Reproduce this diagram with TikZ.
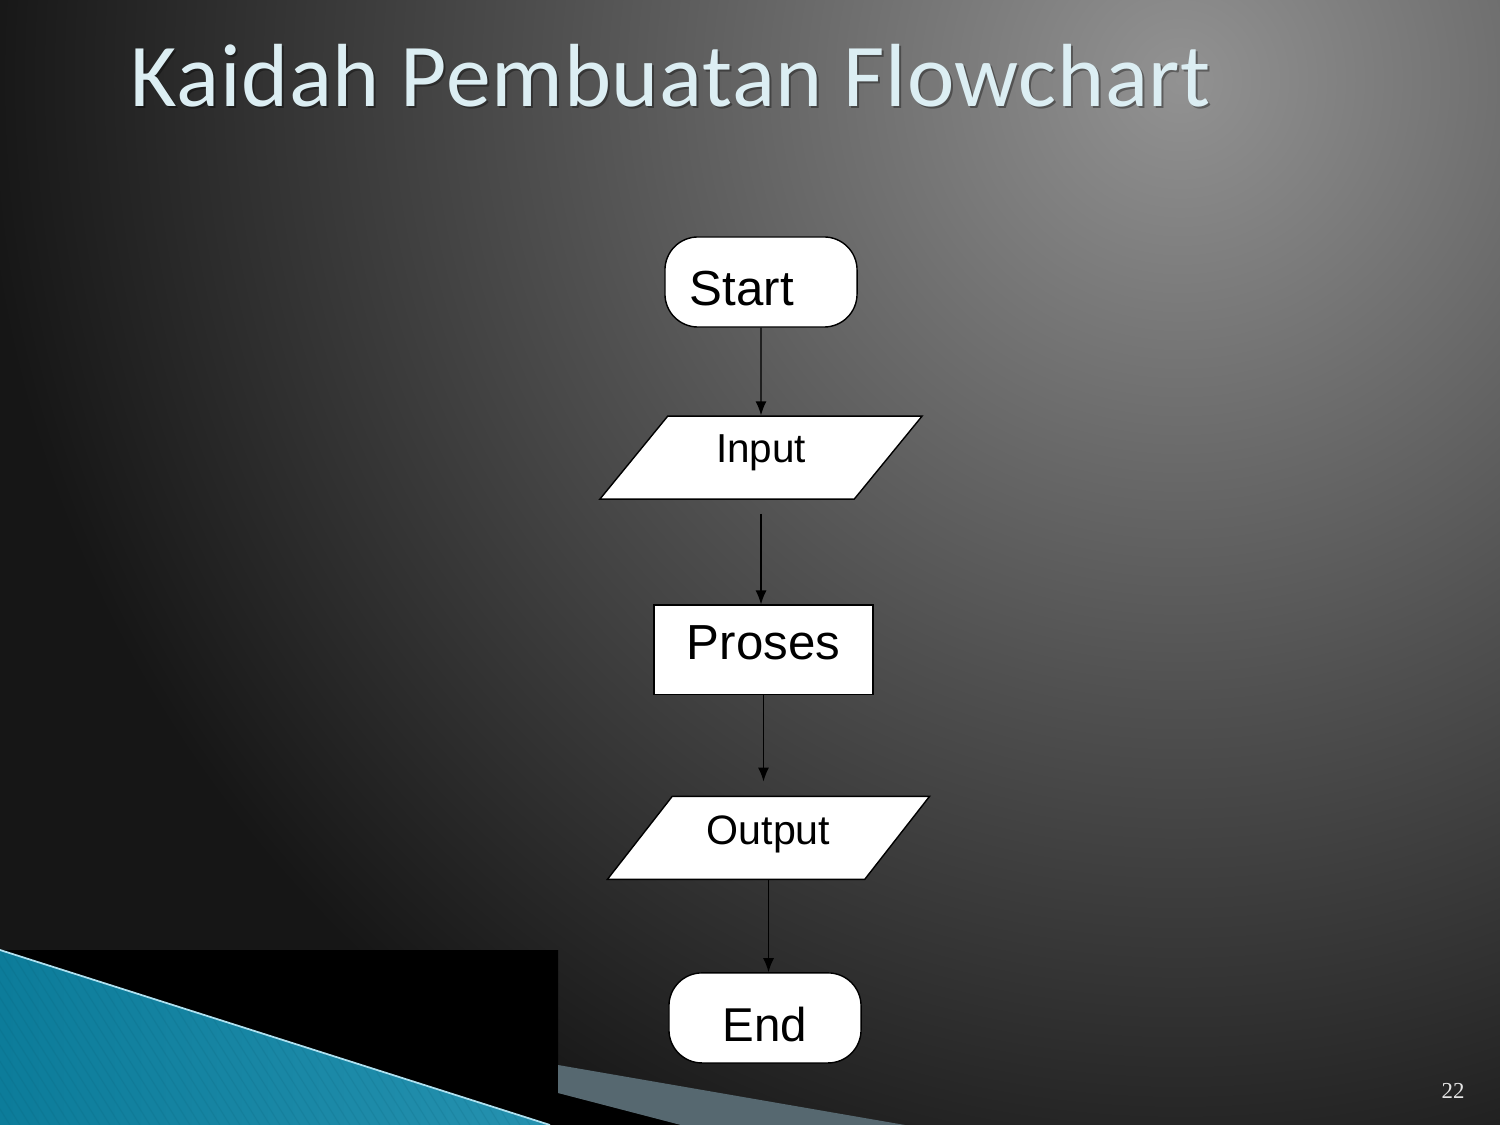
\documentclass[tikz,border=0pt]{standalone}
\usepackage{fontspec}
\setmainfont{Liberation Sans}
\newfontfamily\titlefont[LetterSpace=0.8]{Carlito}
\newfontfamily\pagefont{Liberation Serif}
\usepackage{tikz}
\usetikzlibrary{shapes.geometric, arrows.meta, positioning}
\definecolor{bglight}{RGB}{146,146,146}
\definecolor{bgmid}{RGB}{80,80,80}
\definecolor{bgdark}{RGB}{22,22,22}
\definecolor{titleblue}{RGB}{220,238,243}
\definecolor{tealdark}{RGB}{12,124,154}
\definecolor{teallight}{RGB}{96,196,226}
\definecolor{slateband}{RGB}{86,104,112}
\pgfdeclareradialshading{slidebg}{\pgfpoint{0bp}{0bp}}{color(0bp)=(bglight); color(13bp)=(bgmid); color(25bp)=(bgdark); color(50bp)=(bgdark)}
\tikzstyle{term}=[draw,fill=white,rectangle,rounded corners=0.33cm,minimum width=1.92cm,minimum height=0.9cm]
\tikzstyle{io}=[draw,fill=white,trapezium,trapezium left angle=46,trapezium right angle=134,trapezium stretches body,minimum width=3.22cm,minimum height=0.83cm]
\tikzstyle{block}=[draw,fill=white,rectangle,minimum width=2.19cm,minimum height=0.89cm]
\newcommand{\fsz}[1]{\fontsize{#1}{#1}\selectfont}

\begin{document}
\begin{tikzpicture}[x=0.01cm,y=-0.01cm,>={Latex[length=1.4mm,width=1.1mm]}]
  \useasboundingbox (0,0) rectangle (1500,1125);
  \fill[bgdark] (0,0) rectangle (1500,1125);
  \begin{scope}
    \clip (0,0) rectangle (1500,1125);
    \shade[shading=slidebg] (1180,80) circle[radius=1200];
  \end{scope}

  \node[anchor=base west, inner sep=0, text=black, opacity=0.35, font=\titlefont\fsz{25.5}] at (132,109) {Kaidah Pembuatan Flowchart};
  \node[anchor=base west, inner sep=0, text=titleblue, font=\titlefont\fsz{25.5}] (title) at (130,107) {Kaidah Pembuatan Flowchart};

  \fill[black] (0,950) -- (558,950) -- (558,1093) -- (681,1125) -- (0,1125) -- cycle;
  \fill[slateband] (558,1065) -- (905,1125) -- (681,1125) -- (558,1093) -- cycle;
  \shade[left color=tealdark, middle color=teallight, right color=tealdark!70!teallight] (0,950) -- (550,1125) -- (0,1125) -- cycle;
  \begin{scope}
    \clip (0,950) -- (550,1125) -- (0,1125) -- cycle;
    \foreach \i in {-120,-110,...,550}
      \draw[tealdark!70!black, opacity=0.15, line width=0.3pt] (\i,950) -- ++(110,175);
  \end{scope}
  \draw[teallight!50!white, line width=0.5pt] (0,950) -- (550,1125);

  \node[text=white!90!black, font=\pagefont\fsz{6.5}] (pnum) at (1453,1091) {22};

  \node[term, text width=1.42cm, inner xsep=0.25cm, align=left, text height=0.48cm, font=\fsz{14}] (start) at (761,282) {Start};
  \node[io, below of=start, node distance=1.755cm, text depth=0.19cm, font=\fsz{11.5}] (input) {Input};
  \node[block, below of=input, node distance=1.92cm, xshift=0.025cm, text depth=0.14cm, font=\fsz{14}] (proses) {Proses};
  \node[io, below of=proses, node distance=1.88cm, xshift=0.05cm, text depth=0.15cm, font=\fsz{11.7}] (output) {Output};
  \node[term, below of=output, node distance=1.8cm, xshift=-0.035cm, text height=0.48cm, font=\fsz{13.5}] (stop) {End};
  \draw[->] (start) -- (input);
  \draw[->, shorten <=1.4mm] (input.south) -- (input.south |- proses.north);
  \draw[->, shorten >=1.4mm] (proses.south) -- (proses.south |- output.north);
  \draw[->] (output.south) -- (output.south |- stop.north);
\end{tikzpicture}
\end{document}
